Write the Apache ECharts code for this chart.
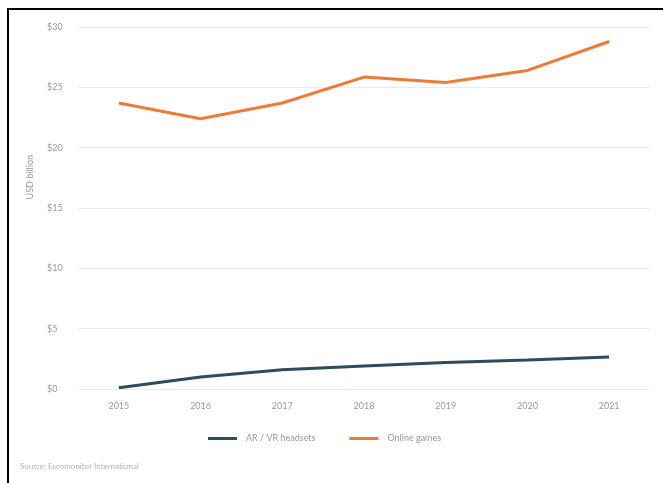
<!DOCTYPE html>
<html>
<head>
<meta charset="utf-8">
<script src="https://cdn.jsdelivr.net/npm/echarts@6/dist/echarts.min.js"></script>
<style>
html,body{margin:0;padding:0;background:#fff;}
#frame{position:absolute;left:7px;top:8px;width:656px;height:475px;border-left:2px solid #000;border-top:2px solid #000;box-sizing:border-box;}
#c{position:absolute;left:0;top:0;width:663px;height:483px;}
</style>
</head>
<body>
<div id="frame"></div>
<div id="c"></div>
<script>
const years = ['2015','2016','2017','2018','2019','2020','2021'];
const arvr = [0.1, 1.0, 1.6, 1.9, 2.2, 2.4, 2.65];
const onlineGames = [23.7, 22.4, 23.7, 25.85, 25.4, 26.4, 28.8];
const seriesNames = ['AR / VR headsets', 'Online games'];
const yAxisName = 'USD billion';
const sourceText = 'Source: Euromonitor International';

const chart = echarts.init(document.getElementById('c'));
const font = 'Lato, "Open Sans", sans-serif';
chart.setOption({
  animation: false,
  backgroundColor: 'transparent',
  grid: {left: 78, right: 13, top: 27, bottom: 94},
  xAxis: {
    type: 'category', data: years, boundaryGap: true,
    axisLine: {show: false}, axisTick: {show: false},
    axisLabel: {color: '#9a9a9a', fontSize: 9, fontFamily: font, margin: 13}
  },
  yAxis: {
    type: 'value', min: 0, max: 30, interval: 5,
    axisLine: {show: false}, axisTick: {show: false},
    splitLine: {lineStyle: {color: '#ebebeb', width: 1}},
    axisLabel: {color: '#9a9a9a', fontSize: 9, fontFamily: font, align: 'left', margin: 31,
      formatter: v => '$' + v}
  },
  legend: {
    left: 203, top: 429, icon: 'rect', itemWidth: 29, itemHeight: 3, itemGap: 34,
    textStyle: {color: '#9a9a9a', fontSize: 9, fontFamily: font, padding: [0,0,0,4]},
    data: seriesNames
  },
  graphic: [
    {type: 'text', left: 26, top: 155, rotation: Math.PI/2, style: {text: yAxisName, fill: '#9a9a9a', fontSize: 9, fontFamily: font}},
    {type: 'text', left: 20, top: 462, style: {text: sourceText, fill: '#b5b5b5', fontSize: 8, fontFamily: font}}
  ],
  series: [
    {name: seriesNames[0], type: 'line', data: arvr, showSymbol: false, symbol: 'none',
      lineStyle: {color: '#2f4b5c', width: 3}, itemStyle: {color: '#2f4b5c'}},
    {name: seriesNames[1], type: 'line', data: onlineGames, showSymbol: false, symbol: 'none',
      lineStyle: {color: '#ee7b33', width: 3}, itemStyle: {color: '#ee7b33'}}
  ]
});
</script>
</body>
</html>
